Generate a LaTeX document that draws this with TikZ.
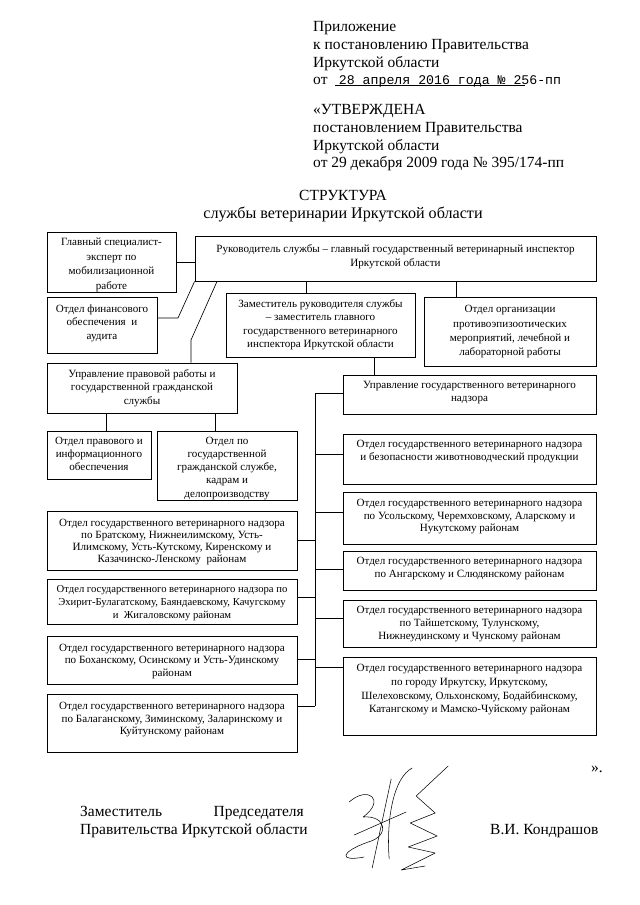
\documentclass[tikz,border=0pt]{standalone}
\usepackage{fontspec}
\setmainfont{Liberation Serif}
\newfontfamily\typed{Liberation Mono}
\usetikzlibrary{positioning,fit}

\begin{document}
\begin{tikzpicture}[x=0.93pt, y=-0.93pt,
    box/.style={draw, line width=0.8pt, inner sep=0pt, fit={#1}},
    txt/.style={inner sep=0pt, align=center, font=\fontsize{10.3}{11.6}\selectfont},
    doc/.style={inner sep=0pt, align=left, font=\fontsize{14.4}{16.6}\selectfont},
    link/.style={line width=0.6pt},
    sign/.style={line width=0.5pt, line cap=round, line join=round}]

    % Page
    \path[fill=white] (0,0) rectangle (640,905);
    \useasboundingbox (0,0) rectangle (640,905);

    % Header
    \node[doc, anchor=north west] (appx) at (313,21) {Приложение\\к постановлению Правительства\\Иркутской области\\от \hspace{7pt}{\typed\fontsize{12.3}{14}\selectfont 28 апреля 2016 года № 256-пп}};
    \draw[line width=0.5pt] (335,85) -- (525,85);
    \node[doc, anchor=north west] (appr) at (313,104) {«УТВЕРЖДЕНА\\постановлением Правительства\\Иркутской области\\от 29 декабря 2009 года № 395/174-пп};

    % Title
    \node[doc, align=center, anchor=north] (title) at (343,190) {СТРУКТУРА\\{\fontsize{15}{16.6}\selectfont службы ветеринарии Иркутской области}};

    % Boxes
    \node[box={(47,232) (176,292)}] (spec) {};
    \node[box={(195,236) (596,281)}] (head) {};
    \node[box={(47,297) (157,353)}] (fin) {};
    \node[box={(226,293) (415,357)}] (deputy) {};
    \node[box={(424,297) (596,366)}] (epiz) {};
    \node[box={(47,363) (237,413)}] (legal) {};
    \node[box={(343,375) (596,414)}] (nadzor) {};
    \node[box={(47,431) (151,479)}] (legalinfo) {};
    \node[box={(157,431) (297,500)}] (civil) {};
    \node[box={(343,434) (596,484)}] (r1) {};
    \node[box={(343,492) (596,544)}] (r2) {};
    \node[box={(47,511) (297,570)}] (l1) {};
    \node[box={(343,551) (596,590)}] (r3) {};
    \node[box={(47,579) (297,624)}] (l2) {};
    \node[box={(343,600) (596,647)}] (r4) {};
    \node[box={(47,636) (297,684)}] (l3) {};
    \node[box={(343,657) (596,735)}] (r5) {};
    \node[box={(47,694) (297,752)}] (l4) {};

    % Box texts
    \node[txt, font=\fontsize{10.3}{13.5}\selectfont, below=6pt of spec.north] (spec-t) {Главный специалист-\\эксперт по\\мобилизационной\\работе};
    \node[txt, font=\fontsize{10.3}{13}\selectfont, below=8.5pt of head.north] (head-t) {Руководитель службы – главный государственный ветеринарный инспектор\\Иркутской области};
    \node[txt, font=\fontsize{10.3}{12.8}\selectfont, below=7pt of fin.north] (fin-t) {Отдел финансового\\обеспечения \ и\\аудита};
    \node[txt, font=\fontsize{10.3}{12.5}\selectfont, below=6pt of deputy.north] (deputy-t) {Заместитель руководителя службы\\– заместитель главного\\государственного ветеринарного\\инспектора Иркутской области};
    \node[txt, font=\fontsize{10.3}{13.3}\selectfont, below=8pt of epiz.north] (epiz-t) {Отдел организации\\противоэпизоотических\\мероприятий, лечебной и\\лабораторной работы};
    \node[txt, font=\fontsize{10.3}{12.5}\selectfont, below=6pt of legal.north] (legal-t) {Управление правовой работы и\\государственной гражданской\\службы};
    \node[txt, font=\fontsize{10.3}{12}\selectfont, below=6pt of nadzor.north] (nadzor-t) {Управление государственного ветеринарного\\надзора};
    \node[txt, font=\fontsize{10.3}{12}\selectfont, below=6pt of legalinfo.north] (legalinfo-t) {Отдел правового и\\информационного\\обеспечения};
    \node[txt, font=\fontsize{10.3}{12.2}\selectfont, below=6pt of civil.north] (civil-t) {Отдел по\\государственной\\гражданской службе,\\кадрам и\\делопроизводству};
    \node[txt, font=\fontsize{10.3}{12}\selectfont, below=6pt of r1.north] (r1-t) {Отдел государственного ветеринарного надзора\\и безопасности животноводческий продукции};
    \node[txt, below=7pt of r2.north] (r2-t) {Отдел государственного ветеринарного надзора\\по Усольскому, Черемховскому, Аларскому и\\Нукутскому районам};
    \node[txt, font=\fontsize{10.3}{11}\selectfont, below=8pt of l1.north] (l1-t) {Отдел государственного ветеринарного надзора\\по Братскому, Нижнеилимскому, Усть-\\Илимскому, Усть-Кутскому, Киренскому и\\Казачинско-Ленскому \ районам};
    \node[txt, font=\fontsize{10.3}{12}\selectfont, below=6pt of r3.north] (r3-t) {Отдел государственного ветеринарного надзора\\по Ангарскому и Слюдянскому районам};
    \node[txt, font=\fontsize{9.9}{12}\selectfont, below=6pt of l2.north] (l2-t) {Отдел государственного ветеринарного надзора по\\Эхирит-Булагатскому, Баяндаевскому, Качугскому\\и \ Жигаловскому районам};
    \node[txt, font=\fontsize{10.3}{12}\selectfont, below=6pt of r4.north] (r4-t) {Отдел государственного ветеринарного надзора\\по Тайшетскому, Тулунскому,\\Нижнеудинскому и Чунскому районам};
    \node[txt, font=\fontsize{10.3}{11.8}\selectfont, below=7.5pt of l3.north] (l3-t) {Отдел государственного ветеринарного надзора\\по Боханскому, Осинскому и Усть-Удинскому\\районам};
    \node[txt, font=\fontsize{10.3}{12.8}\selectfont, below=7pt of r5.north] (r5-t) {Отдел государственного ветеринарного надзора\\по городу Иркутску, Иркутскому,\\Шелеховскому, Ольхонскому, Бодайбинскому,\\Катангскому и Мамско-Чуйскому районам};
    \node[txt, below=8pt of l4.north] (l4-t) {Отдел государственного ветеринарного надзора\\по Балаганскому, Зиминскому, Заларинскому и\\Куйтунскому районам};

    % Links from the head
    \draw[link] (spec.east |- 0,262) -- (head.west |- 0,262);
    \coordinate (finbend) at (178,318);
    \draw[link] (head.south west) -- (finbend) -- (finbend -| fin.east);
    \coordinate (legbend) at (191,340);
    \draw[link] (217,0 |- head.south) -- (legbend) -- (legbend |- legal.north);
    \draw[link] (306,0 |- head.south) -- (306,0 |- deputy.north);
    \draw[link] (456,0 |- head.south) -- (456,0 |- epiz.north);
    \draw[link] (374,0 |- deputy.south) -- (374,0 |- nadzor.north);
    \draw[link] (106,0 |- legal.south) -- (106,0 |- legalinfo.north);
    \draw[link] (215,0 |- legal.south) -- (215,0 |- civil.north);

    % Trunk of the supervision departments
    \coordinate (trunk) at (315,393);
    \draw[link] (trunk) -- (trunk |- 0,706);
    \foreach \b/\y in {nadzor/393, r1/454, r2/512, r3/569, r4/618, r5/667}
        \draw[link] (trunk |- 0,\y) -- (\b.west |- 0,\y);
    \foreach \b/\y in {l1/540, l2/597, l3/659, l4/706}
        \draw[link] (trunk |- 0,\y) -- (\b.east |- 0,\y);

    % Signature
    \node[doc, anchor=base east] (quote) at (603,772) {».};
    \node[doc, anchor=base west] (sig1) at (80,816) {Заместитель};
    \node[doc, anchor=base east] (sig2) at (304,816) {Председателя};
    \node[doc, anchor=base west] (sig3) at (80,834) {Правительства Иркутской области};
    \node[doc, anchor=base west] (sig4) at (490,834) {В.И. Кондрашов};
    \begin{scope}[xshift=-11pt]
        \draw[sign] (361,802) .. controls (380,785) and (398,800) .. (375,817)
            .. controls (398,815) and (402,836) .. (380,842)
            .. controls (352,852) and (350,862) .. (376,857);
        \draw[sign] (403,779) -- (384,868);
        \draw[sign] (424,768) .. controls (405,778) and (398,820) .. (401,859);
        \draw[sign] (460,766) -- (428,796) -- (447,813) -- (422,823) -- (449,836)
            -- (420,847) -- (447,853) -- (413,870) -- (437,866);
        \draw[sign] (366,835) -- (418,812);
    \end{scope}
\end{tikzpicture}
\end{document}
